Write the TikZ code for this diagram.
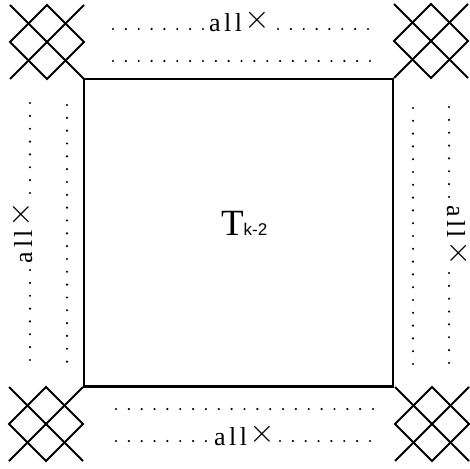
\documentclass[tikz,border=0pt]{standalone}
\usepackage{fix-cm}
\usepackage{fontspec}
\setmainfont{Liberation Serif}
\newfontfamily\sansf{Liberation Sans}
\newcommand\allx{{\fontsize{26pt}{26pt}\selectfont a\kern3.5pt l\kern3.5pt l}\kern3pt\raisebox{3pt}{\fontsize{33pt}{33pt}\selectfont$\times$}}
\begin{document}
\begin{tikzpicture}[x=1pt,y=-1pt,
  crossline/.style={line width=2pt},
  boxline/.style={draw,line width=2.7pt,inner sep=0pt,outer sep=0pt},
  lbl/.style={inner sep=0pt,outer sep=0pt}]
\useasboundingbox (0,0) rectangle (470,468);
% corner crosses
\foreach \n/\cx/\cy in {tl/47/42, tr/431/41, bl/46/424, br/432/424}{
  \coordinate (\n) at (\cx,\cy);
  \draw[crossline] (\n) ++(-37,-37) -- ++(74,74);
  \draw[crossline] (\n) ++(-37,37) -- ++(74,-74);
  \draw[crossline] (\n) ++(0,-37) -- ++(37,37) -- ++(-37,37) -- ++(-37,-37) -- cycle;
}
% central square
\node[boxline,minimum width=309pt,minimum height=307.5pt] (sq) at (238.5,232.75) {};
\node[lbl,anchor=base west] (tk) at (221,235) {\fontsize{37pt}{37pt}\selectfont T{\sansf\fontsize{17pt}{17pt}\selectfont k-2}};
% dotted rows
\foreach \i in {0,...,7}{
  \fill (113+12.85*\i,29) circle (1.2pt);
  \fill (278+12.85*\i,29) circle (1.2pt);
  \fill (116+12.85*\i,441) circle (1.2pt);
  \fill (280+12.85*\i,441) circle (1.2pt);
  \fill (30,103+12.85*\i) circle (1.2pt);
  \fill (30,270+12.85*\i) circle (1.2pt);
  \fill (449,107+12.85*\i) circle (1.2pt);
  \fill (449,273+12.85*\i) circle (1.2pt);
}
\foreach \i in {0,...,20}{
  \fill (113+12.85*\i,61) circle (1.2pt);
  \fill (116+12.85*\i,409) circle (1.2pt);
  \fill (67,105+12.83*\i) circle (1.2pt);
  \fill (413,108+12.8*\i) circle (1.2pt);
}
% all x labels
\node[lbl,anchor=base west] (ltop) at (209,32) {\allx};
\node[lbl,anchor=base west] (lbot) at (214,445) {\allx};
\node[lbl,anchor=base west,rotate=90] (lleft) at (32,263) {\allx};
\node[lbl,anchor=base west,rotate=-90] (lright) at (447,205) {\allx};
\end{tikzpicture}
\end{document}
